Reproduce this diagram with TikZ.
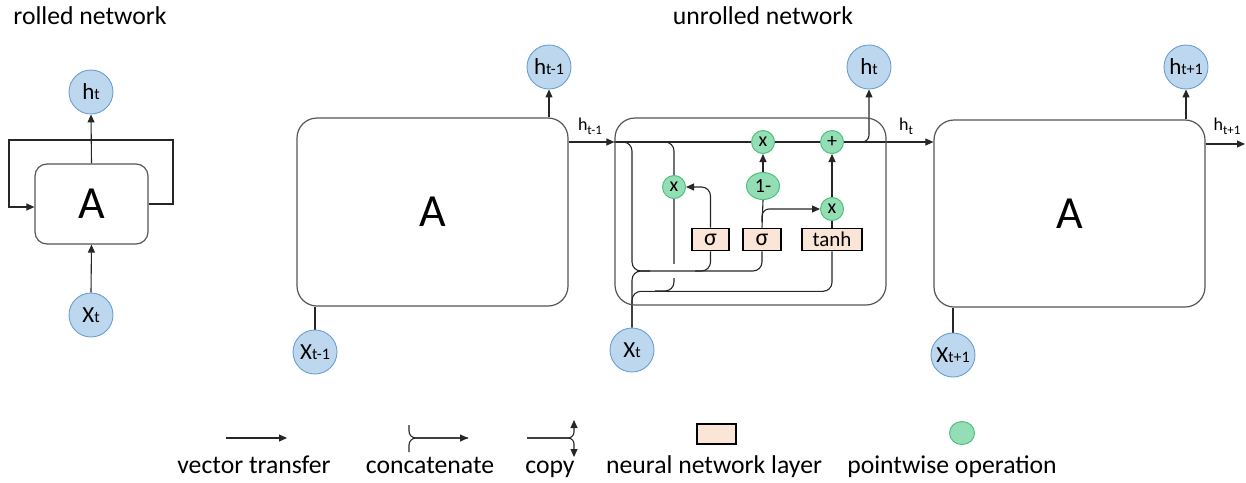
\documentclass[tikz,border=0pt]{standalone}
\usepackage{fontspec}
\setmainfont{Carlito}
\usetikzlibrary{arrows.meta,shapes.geometric,calc}
\pgfdeclarelayer{bg}
\pgfsetlayers{bg,main}

\definecolor{linec}{HTML}{262626}
\definecolor{boxc}{HTML}{555555}
\definecolor{bluefill}{HTML}{BDD7EE}
\definecolor{blueline}{HTML}{6A9FD4}
\definecolor{greenfill}{HTML}{93DEB5}
\definecolor{greenline}{HTML}{4EC07E}
\definecolor{peach}{HTML}{FBE5D6}

\newcommand{\myfs}[1]{\fontsize{#1}{#1}\selectfont}
\newcommand{\circlbl}[2]{{\myfs{23}#1\myfs{16}#2}}
\newcommand{\wirelbl}[2]{{\myfs{18}#1\raisebox{-4pt}{\myfs{13}#2}}}

\begin{document}
\begin{tikzpicture}[x=1pt,y=-1pt,
  wire/.style={draw=linec, line width=1.1pt},
  arr/.style={wire, -{Triangle[length=8pt,width=7pt]}},
  cellbox/.style={draw=boxc, line width=1.2pt, rounded corners=20pt, inner sep=0pt},
  state/.style={circle, draw=blueline, fill=bluefill, line width=0.9pt, minimum size=44pt, inner sep=0pt},
  op/.style={circle, draw=greenline, fill=greenfill, line width=1pt, minimum size=23pt, inner sep=0pt, font=\myfs{20}},
  layer/.style={rectangle, draw=black, fill=peach, line width=1.6pt, minimum height=22pt, inner sep=0pt},
  title/.style={anchor=base, inner sep=0pt, font=\myfs{25.7}}
]
\useasboundingbox (0,0) rectangle (1246,482);

% titles
\node[title] (tRolled) at (90,24) {rolled network};
\node[title] (tUnrolled) at (763,24) {unrolled network};

% rolled network
\node[state] (hR) at (91,92) {\circlbl{h}{t}};
\node[cellbox, minimum width=113pt, minimum height=80pt, rounded corners=12pt] (R) at (91.5,204) {\myfs{46}A};
\node[state] (xR) at (91,315) {\circlbl{X}{t}};
\coordinate (loopTR) at (173,140);
\coordinate (loopBL) at (9,207);

% unrolled: step t-1
\node[cellbox, minimum width=271pt, minimum height=188pt] (A1) at (432.5,212) {\myfs{46}A};
\node[state] (h1) at (549,67) {\circlbl{h}{t-1}};
\node[state] (x1) at (315,352) {\circlbl{X}{t-1}};

% unrolled: step t (GRU cell)
\node[cellbox, minimum width=271pt, minimum height=187pt] (M) at (750.5,211.5) {};
\node[state] (hT) at (869,67) {\circlbl{h}{t}};
\node[state] (xT) at (632,350) {\circlbl{X}{t}};

\node[op] (mulTop) at (763,142) {x};
\node[op] (plus) at (832,142) {+};
\node[op] (mulR) at (674,187) {x};
\node[op, ellipse, minimum width=33pt, minimum height=27pt] (om) at (763,186) {1-};
\node[op] (mulZ) at (832,209) {x};
\node[layer, minimum width=37pt, font=\myfs{24}] (sig1) at (710.5,239.5) {σ};
\node[layer, minimum width=38pt, font=\myfs{24}] (sig2) at (762,239.5) {σ};
\node[layer, minimum width=60pt, font=\myfs{21}] (tanh) at (832,239.5) {tanh};

\coordinate (tapH) at (857,142);
\coordinate (cat1) at (632,271);

% unrolled: step t+1
\node[cellbox, minimum width=271pt, minimum height=187pt] (A3) at (1069.5,213.5) {\myfs{46}A};
\node[state] (h3) at (1186,67) {\circlbl{h}{t+1}};
\node[state] (x3) at (953,355) {\circlbl{X}{t+1}};
\coordinate (outR) at (1245,144);

% wire labels
\node (l1) at (590,126) {\wirelbl{h}{t-1}};
\node (l2) at (906,126) {\wirelbl{h}{t}};
\node (l3) at (1227,126) {\wirelbl{h}{t+1}};

% legend
\coordinate (v1) at (226,438);
\coordinate (v2) at (287,438);
\coordinate (c1) at (409,425);
\coordinate (c2) at (409,452);
\coordinate (c3) at (468,438);
\coordinate (p1) at (527,438);
\coordinate (p2) at (574,420);
\coordinate (p3) at (574,457);
\node[layer, minimum width=39pt, minimum height=20pt] (lgLayer) at (716.5,434) {};
\node[op, ellipse, minimum width=25pt, minimum height=23pt] (lgOp) at (962,433) {};
\node[title] (lgT1) at (254,473) {vector transfer};
\node[title] (lgT2) at (430,473) {concatenate};
\node[title] (lgT3) at (550,473) {copy};
\node[title] (lgT4) at (714,473) {neural network layer};
\node[title] (lgT5) at (952,473) {pointwise operation};

\begin{pgfonlayer}{bg}
  % rolled network
  \draw[arr] (R.north) -- (hR.south);
  \draw[arr] (xR.north) -- (R.south);
  \draw[arr] (R.east) -| (loopTR) -| (loopBL) -- (R.west |- loopBL);

  % step t-1
  \draw[arr] (h1.south |- A1.north) -- (h1.south);
  \draw[wire] (x1.north) -- (x1.north |- A1.south);
  \draw[arr] (A1.east |- mulTop) -- (M.west |- mulTop);

  % step t: state line
  \draw[arr] (M.west |- mulTop) -- (A3.west |- mulTop);
  \draw[arr, rounded corners=7pt] (tapH) -| (hT.south);

  % reset gate
  \draw[wire, rounded corners=9pt] (M.west |- mulTop) -| (mulR.north);
  \draw[wire, rounded corners=9pt] (mulR.south) |- (655,291);
  \draw[white, line width=4pt] (674,264) -- (674,278);

  % concatenations feeding the gates
  \draw[wire, rounded corners=9pt] (M.west |- mulTop) -| (cat1) -| (sig2.south);
  \draw[wire, rounded corners=9pt] (xT.north) |- (650,271);
  \draw[wire, rounded corners=9pt] (xT.north) |- ([yshift=-40pt]tanh.south) -- (tanh.south);
  \draw[wire, rounded corners=9pt] (sig1.south) |- (695,271);

  % gate outputs
  \draw[arr, rounded corners=9pt] (sig1.north) |- (mulR.east);
  \draw[wire] (sig2.north) -- (om.south);
  \draw[arr, rounded corners=7pt] ([yshift=6pt]sig2.north) |- (mulZ.west);
  \draw[arr] (om.north) -- (mulTop.south);
  \draw[wire] (tanh.north) -- (mulZ.south);
  \draw[arr] (mulZ.north) -- (plus.south);

  % step t+1
  \draw[arr] (h3.south |- A3.north) -- (h3.south);
  \draw[wire] (x3.north) -- (x3.north |- A3.south);
  \draw[arr] (A3.east |- outR) -- (outR);

  % legend symbols
  \draw[arr] (v1) -- (v2);
  \draw[wire, rounded corners=7pt] (c1) |- (c3);
  \draw[arr, rounded corners=7pt] (c2) |- (c3);
  \draw[arr, rounded corners=6pt] (p1) -| (p2);
  \draw[arr, rounded corners=6pt] (p1) -| (p3);
\end{pgfonlayer}
\end{tikzpicture}
\end{document}
